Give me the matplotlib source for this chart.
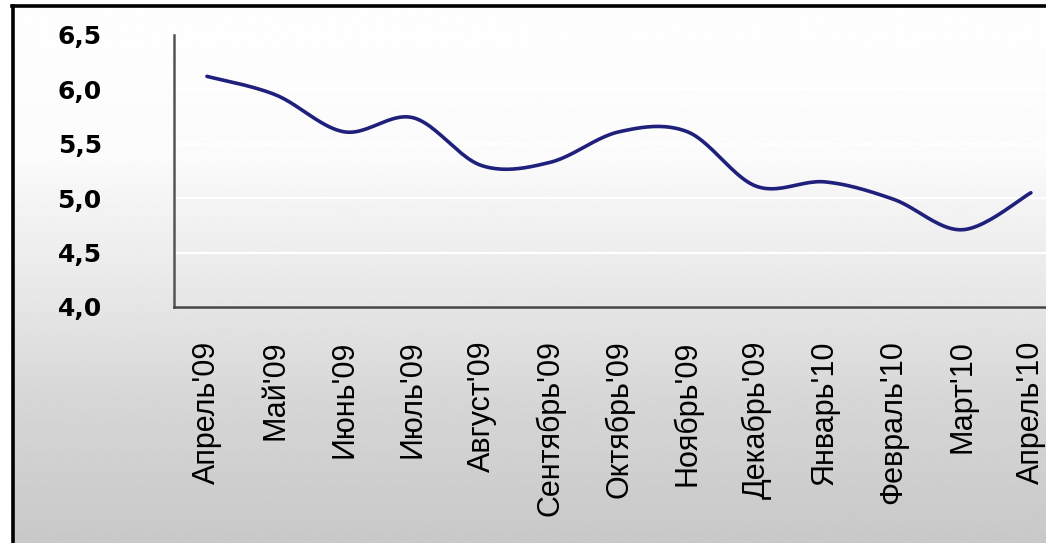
import matplotlib as mpl
mpl.use("Agg")
import matplotlib.pyplot as plt
from matplotlib.lines import Line2D
import numpy as np

months = ["Апрель'09", "Май'09", "Июнь'09", "Июль'09", "Август'09", "Сентябрь'09",
          "Октябрь'09", "Ноябрь'09", "Декабрь'09", "Январь'10", "Февраль'10",
          "Март'10", "Апрель'10"]
rate = [6.12, 5.95, 5.61, 5.74, 5.30, 5.33, 5.61, 5.61, 5.11, 5.15, 4.99, 4.71, 5.05]
yticks = [4.0, 4.5, 5.0, 5.5, 6.0, 6.5]

W, H = 1046, 543


def smooth(xs, ys, steps=24):
    # catmull-rom, the way excel draws a "smoothed line"
    xs = np.asarray(xs, float)
    ys = np.asarray(ys, float)
    px = np.concatenate([[xs[0]], xs, [xs[-1]]])
    py = np.concatenate([[ys[0]], ys, [ys[-1]]])
    outx, outy = [], []
    t = np.linspace(0, 1, steps, endpoint=False)
    for i in range(1, len(px) - 2):
        for p, out in ((px, outx), (py, outy)):
            p0, p1, p2, p3 = p[i - 1], p[i], p[i + 1], p[i + 2]
            out.extend(0.5 * (2 * p1 + (-p0 + p2) * t
                              + (2 * p0 - 5 * p1 + 4 * p2 - p3) * t ** 2
                              + (-p0 + 3 * p1 - 3 * p2 + p3) * t ** 3))
    outx.append(xs[-1])
    outy.append(ys[-1])
    return np.array(outx), np.array(outy)


fig = plt.figure(figsize=(W / 100, H / 100), dpi=100)
fig.patch.set_facecolor("white")

# grey gradient behind the chart, inside the black frame
bg = fig.add_axes([14 / W, 0, 1 - 14 / W, 1 - 7 / H])
bg.axis("off")
rows = np.arange(H)
shade = np.interp(rows, [0, 150, 200, 260, 310, 400, 543],
                  [0.995, 0.985, 0.955, 0.925, 0.895, 0.84, 0.785])
bg.imshow(shade[:, None], cmap="gray", vmin=0, vmax=1, aspect="auto",
          extent=[0, 1, 0, 1], interpolation="bilinear")
bg.set_xlim(0, 1)
bg.set_ylim(0, 1)

fig.add_artist(Line2D([13 / W, 13 / W], [0, 1 - 6 / H], transform=fig.transFigure,
                      color="black", lw=2.6))
fig.add_artist(Line2D([12 / W, 1], [1 - 6 / H, 1 - 6 / H], transform=fig.transFigure,
                      color="black", lw=2.6))

ax = fig.add_axes([174 / W, 1 - 307 / H, 1 - 174 / W, (307 - 35) / H])
ax.patch.set_alpha(0)

x = np.arange(len(months))
sx, sy = smooth(x, rate)
ax.plot(sx, sy, color="#1f1f7c", lw=2.6, solid_capstyle="round")

ax.set_xlim(-0.48, 12.22)
ax.set_ylim(4.0, 6.5)
ax.set_xticks(x)
ax.set_xticklabels(months, rotation=90, ha="center", va="top",
                   family="Liberation Sans", fontsize=22)
ax.set_yticks(yticks)
ax.set_yticklabels([f"{v:.1f}".replace(".", ",") for v in yticks],
                   family="DejaVu Sans", fontweight="bold", fontsize=18)
ax.tick_params(axis="x", length=0, pad=24)
ax.tick_params(axis="y", length=0, pad=52)

ax.yaxis.grid(True, color="white", lw=1.6)
ax.set_axisbelow(True)
for side in ("top", "right"):
    ax.spines[side].set_visible(False)
ax.spines["left"].set_color("#555555")
ax.spines["bottom"].set_color("#444444")
ax.spines["left"].set_linewidth(1.8)
ax.spines["bottom"].set_linewidth(1.8)

plt.savefig("out.png", dpi=100)
